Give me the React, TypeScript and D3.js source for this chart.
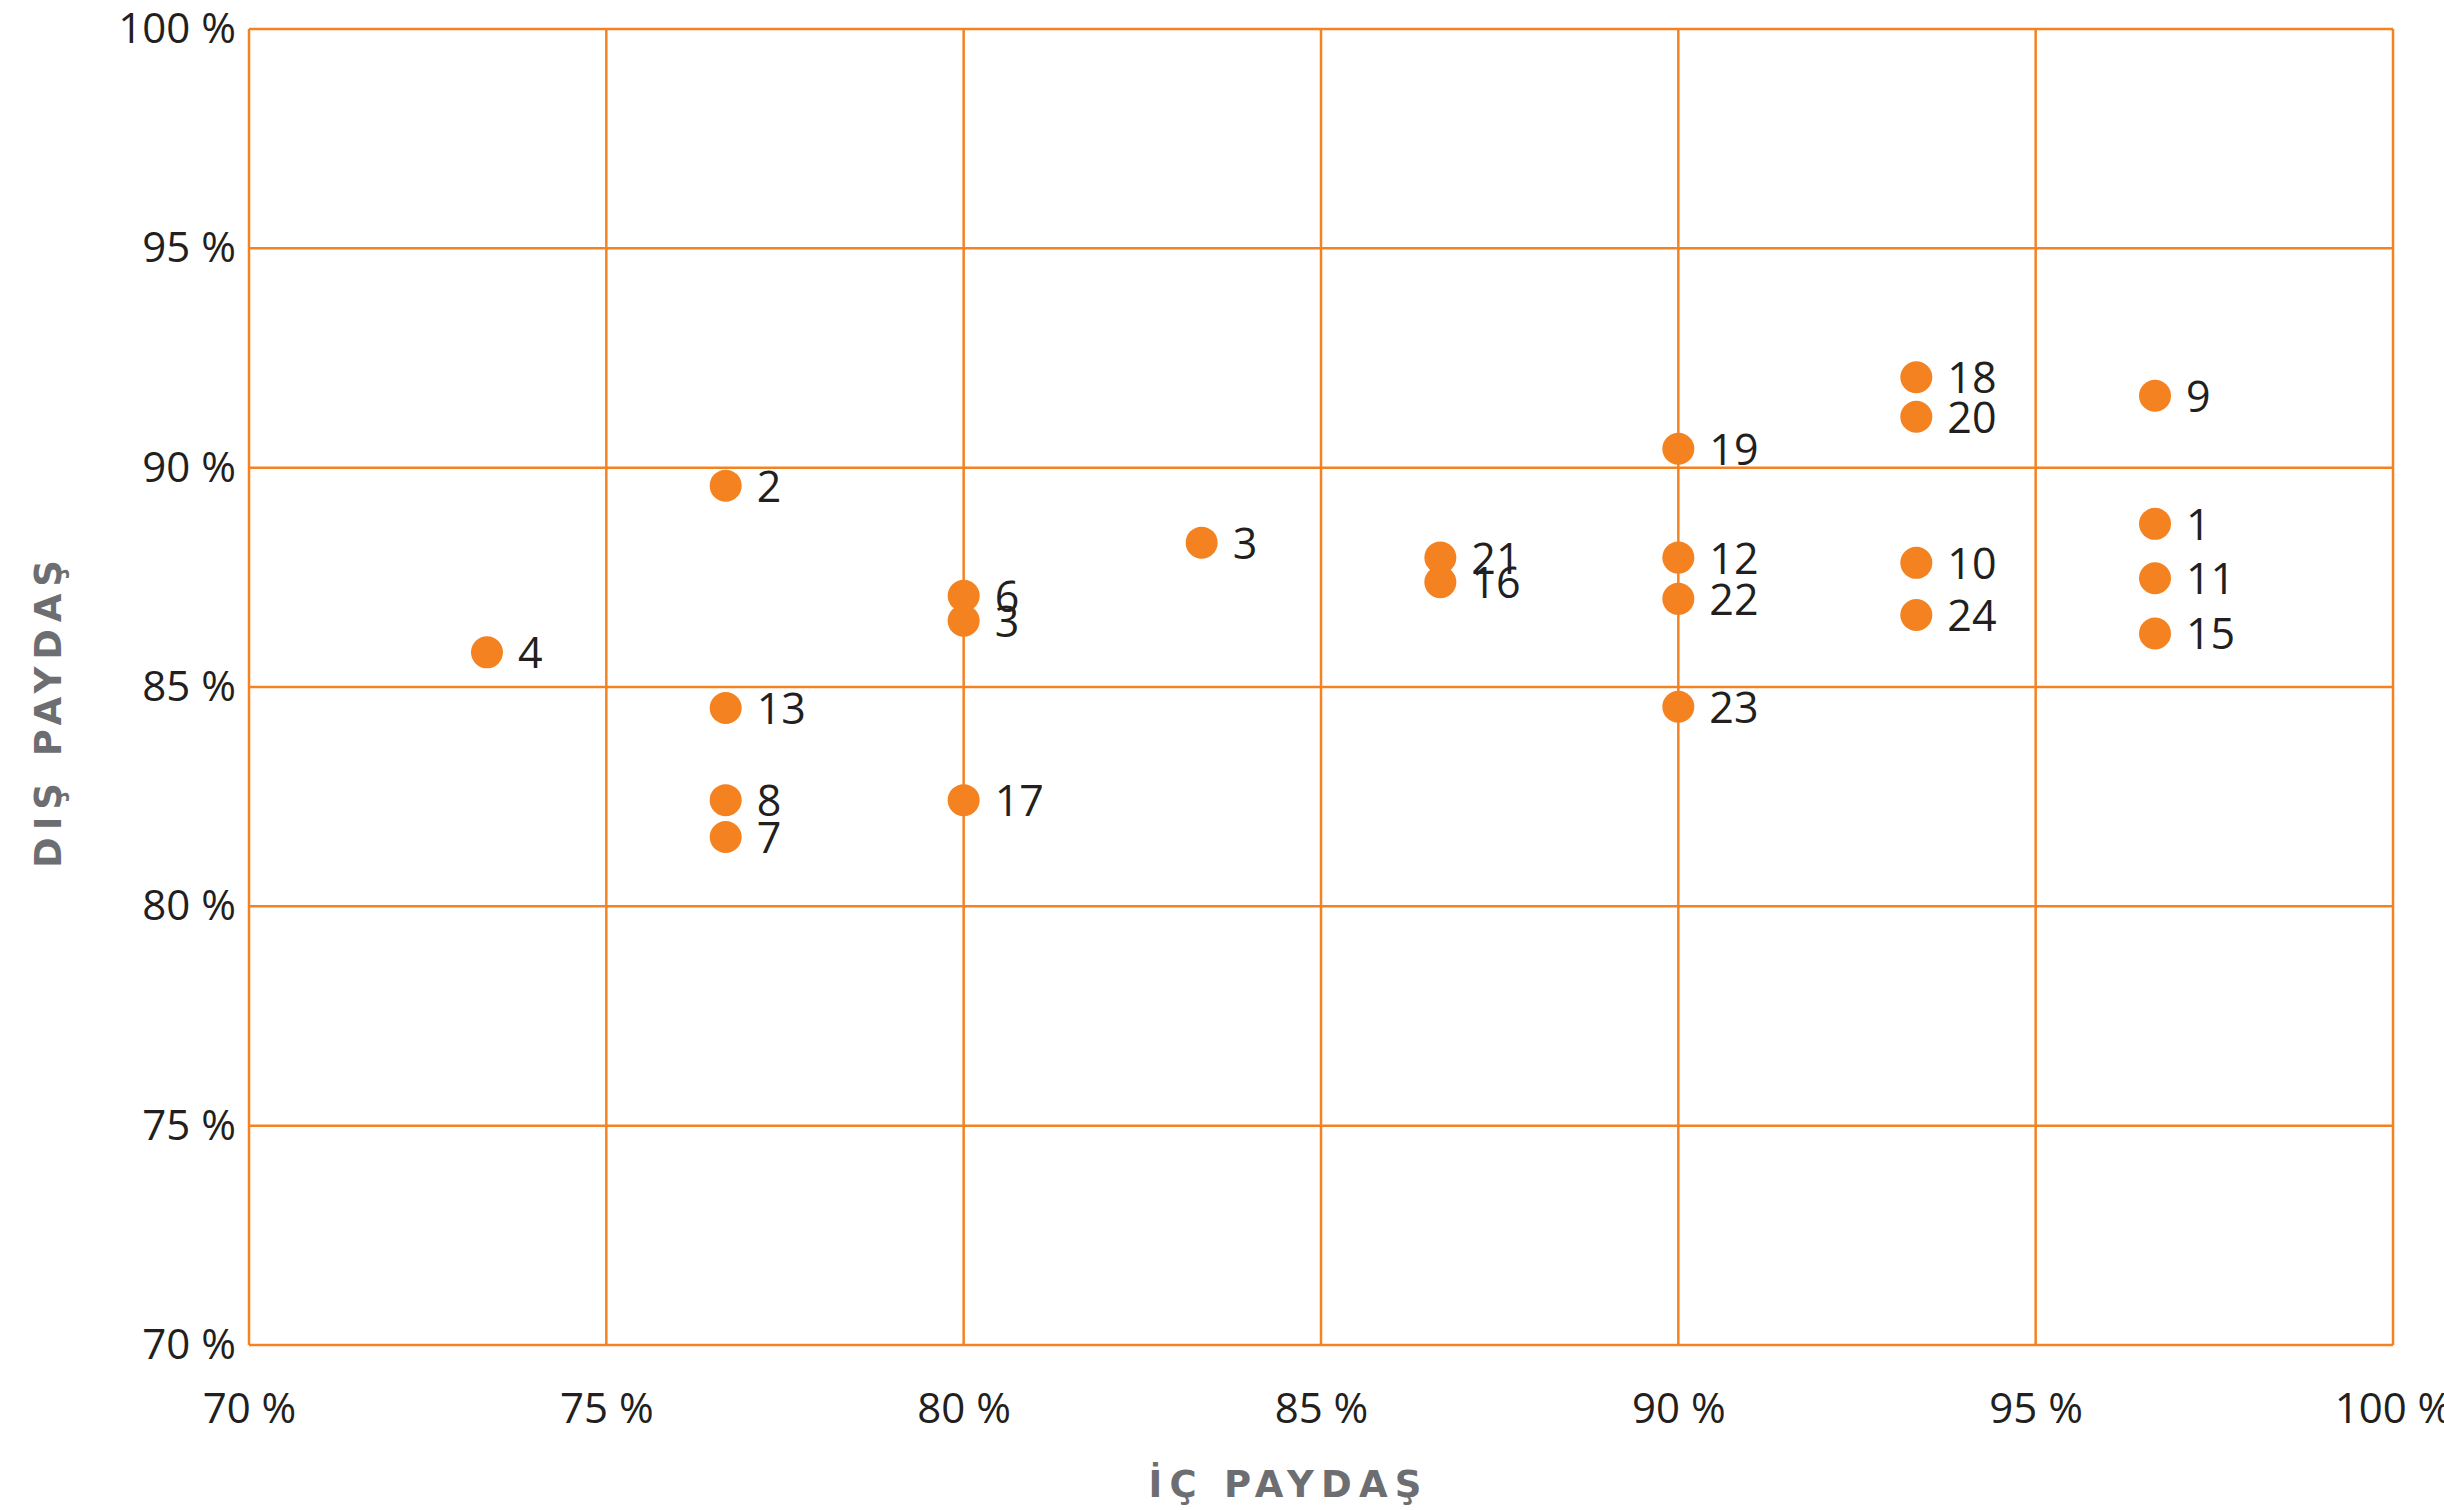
import { axisBottom, axisLeft, scaleLinear, select } from 'd3';
import { useEffect, useRef } from 'react';

// İç paydaş (x) / dış paydaş (y) puanları, yüzde olarak
const labels = ['4', '2', '13', '8', '7', '6', '3', '17', '3', '21', '16', '19', '12', '22', '23', '18', '20', '10', '24', '9', '1', '11', '15'];
const icValues = [73.33, 76.67, 76.67, 76.67, 76.67, 80, 80, 80, 83.33, 86.67, 86.67, 90, 90, 90, 90, 93.33, 93.33, 93.33, 93.33, 96.67, 96.67, 96.67, 96.67];
const disValues = [85.79, 89.59, 84.52, 82.42, 81.58, 87.08, 86.51, 82.42, 88.29, 87.95, 87.39, 90.43, 87.95, 87.01, 84.55, 92.06, 91.16, 87.83, 86.64, 91.64, 88.72, 87.48, 86.22];
const tickValues = [70, 75, 80, 85, 90, 95, 100];

const ORANGE = '#f58220';
const FONT = '"Open Sans", "Noto Sans", sans-serif';
const TITLE_FONT = '"DejaVu Sans", "Open Sans", sans-serif';

export default function App() {
  const width = 2444;
  const height = 1510;
  const margin = { top: 29, right: 51, bottom: 165, left: 249 };
  const gx = useRef(null);
  const gy = useRef(null);

  const xScale = scaleLinear()
    .domain([70, 100])
    .range([margin.left, width - margin.right]);
  const yScale = scaleLinear()
    .domain([70, 100])
    .range([height - margin.bottom, margin.top]);

  useEffect(() => {
    const g = select(gx.current);
    g.call(
      axisBottom(xScale)
        .tickValues(tickValues)
        .tickSize(0)
        .tickPadding(48)
        .tickFormat((d) => `${d} %`),
    );
    g.select('.domain').remove();
    g.attr('font-size', 42).attr('font-family', FONT);
    g.selectAll('text').attr('fill', '#231f20').attr('font-weight', 400);
  }, [gx]);

  useEffect(() => {
    const g = select(gy.current);
    g.call(
      axisLeft(yScale)
        .tickValues(tickValues)
        .tickSize(0)
        .tickPadding(13)
        .tickFormat((d) => `${d} %`),
    );
    g.select('.domain').remove();
    g.attr('font-size', 42).attr('font-family', FONT);
    g.selectAll('text').attr('fill', '#231f20').attr('font-weight', 400);
  }, [gy]);

  const points = labels.map((label, i) => ({ label, x: icValues[i], y: disValues[i] }));

  return (
    <svg
      width={width}
      height={height}
      style={{ position: 'absolute', left: 0, top: 0, background: '#fff' }}>
      <g>
        {tickValues.map((t) => (
          <line
            key={'v' + t}
            x1={xScale(t)}
            x2={xScale(t)}
            y1={yScale(70)}
            y2={yScale(100)}
            stroke={ORANGE}
            strokeWidth={2.5}
          />
        ))}
        {tickValues.map((t) => (
          <line
            key={'h' + t}
            x1={xScale(70)}
            x2={xScale(100)}
            y1={yScale(t)}
            y2={yScale(t)}
            stroke={ORANGE}
            strokeWidth={2.5}
          />
        ))}
      </g>
      <g>
        {points.map((p, i) => (
          <circle key={i} r={16} cx={xScale(p.x)} cy={yScale(p.y)} fill={ORANGE} />
        ))}
      </g>
      <g fontFamily={FONT} fontSize={43} fill="#231f20" fontWeight={400}>
        {points.map((p, i) => (
          <text key={i} x={xScale(p.x) + 31} y={yScale(p.y) + 16}>
            {p.label}
          </text>
        ))}
      </g>
      <g ref={gy} transform={`translate(${margin.left}, 0)`}></g>
      <g ref={gx} transform={`translate(0, ${height - margin.bottom})`}></g>
      <text
        x={1285}
        y={1497}
        textAnchor="middle"
        fontFamily={TITLE_FONT}
        fontWeight={700}
        fontSize={37}
        fill="#6d6e71"
        textLength={273}
        lengthAdjust="spacing">
        İÇ PAYDAŞ
      </text>
      <text
        transform="translate(61, 714) rotate(-90)"
        textAnchor="middle"
        fontFamily={TITLE_FONT}
        fontWeight={700}
        fontSize={37}
        fill="#6d6e71"
        textLength={308}
        lengthAdjust="spacing">
        DIŞ PAYDAŞ
      </text>
    </svg>
  );
}
